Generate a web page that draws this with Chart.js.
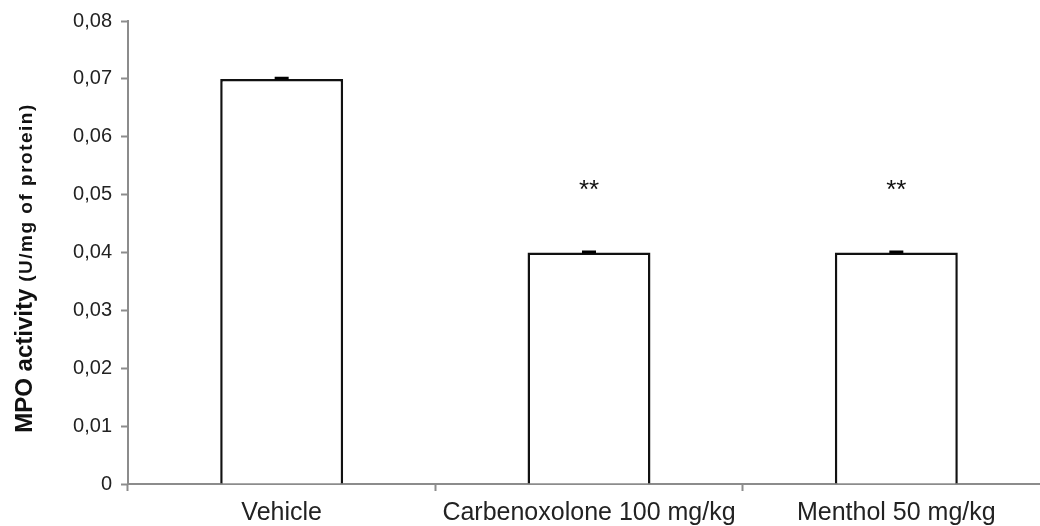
<!DOCTYPE html>
<html>
<head>
<meta charset="utf-8">
<script src="https://cdn.jsdelivr.net/npm/chart.js@4.4.1/dist/chart.umd.min.js"></script>
<style>
  html, body { margin: 0; padding: 0; background: #fff; overflow: hidden; }
  #caja { width: 1050px; height: 526px; }
</style>
</head>
<body>
<div id="caja"><canvas id="grafica"></canvas></div>
<script>
// datos
const categorias = ["Vehicle", "Carbenoxolone 100 mg/kg", "Menthol 50 mg/kg"];
const actividadMPO = [0.07, 0.04, 0.04];
const errores = [0.0001, 0.0001, 0.0001];
const significancia = ["", "**", "**"];
const etiquetasY = ["0", "0,01", "0,02", "0,03", "0,04", "0,05", "0,06", "0,07", "0,08"];
const tituloY = "MPO activity";
const unidadY = "(U/mg of protein)";

const fuente = "'Liberation Sans', Arial, sans-serif";
const gris = "#8c8c8c";

// barras de error, asteriscos y titulo del eje Y
const extras = {
  id: "extras",
  afterDatasetsDraw(chart) {
    const ctx = chart.ctx;
    const yScale = chart.scales.y;
    const meta = chart.getDatasetMeta(0);
    ctx.save();
    meta.data.forEach((barra, i) => {
      const yErr = yScale.getPixelForValue(actividadMPO[i] + errores[i]);
      ctx.strokeStyle = "#000";
      ctx.lineWidth = 3;
      ctx.beginPath();
      ctx.moveTo(barra.x, barra.y);
      ctx.lineTo(barra.x, yErr);
      ctx.moveTo(barra.x - 7, yErr);
      ctx.lineTo(barra.x + 7, yErr);
      ctx.stroke();
      if (significancia[i]) {
        ctx.fillStyle = "#111";
        ctx.font = "26px " + fuente;
        ctx.textAlign = "center";
        ctx.textBaseline = "alphabetic";
        ctx.fillText(significancia[i], barra.x, barra.y - 55);
      }
    });
    ctx.restore();

    // titulo rotado con dos tamaños
    ctx.save();
    ctx.translate(32, 268);
    ctx.rotate(-Math.PI / 2);
    ctx.fillStyle = "#111";
    ctx.textBaseline = "alphabetic";
    ctx.textAlign = "left";
    ctx.font = "bold 24px " + fuente;
    const w1 = ctx.measureText(tituloY).width;
    ctx.font = "bold 19px " + fuente;
    ctx.letterSpacing = "1.5px";
    const w2 = ctx.measureText(unidadY).width;
    const total = w1 + 7 + w2;
    const x0 = -total / 2;
    ctx.letterSpacing = "0px";
    ctx.font = "bold 24px " + fuente;
    ctx.fillText(tituloY, x0, 0);
    ctx.letterSpacing = "1.5px";
    ctx.font = "bold 19px " + fuente;
    ctx.fillText(unidadY, x0 + w1 + 7, 0);
    ctx.restore();
  }
};

new Chart(document.getElementById("grafica").getContext("2d"), {
  type: "bar",
  data: {
    labels: categorias,
    datasets: [{
      data: actividadMPO,
      backgroundColor: "#fff",
      borderColor: "#111",
      borderWidth: 2.5,
      categoryPercentage: 1,
      barPercentage: 0.4
    }]
  },
  options: {
    responsive: true,
    maintainAspectRatio: false,
    animation: false,
    layout: { padding: { top: 20, left: 0, right: 0, bottom: 0 } },
    plugins: { legend: { display: false }, tooltip: { enabled: false } },
    scales: {
      x: {
        offset: true,
        afterFit(scale) { scale.height = 42; },
        grid: { offset: true, drawOnChartArea: false, tickLength: 7, color: gris, tickWidth: 2 },
        border: { color: gris, width: 2 },
        ticks: { font: { size: 25, family: fuente }, color: "#222", padding: 7, maxRotation: 0, autoSkip: false }
      },
      y: {
        min: 0,
        max: 0.08,
        afterFit(scale) { scale.width = 128; },
        grid: { drawOnChartArea: false, tickLength: 7, color: gris, tickWidth: 2 },
        border: { color: gris, width: 2 },
        ticks: {
          stepSize: 0.01,
          font: { size: 20, family: fuente },
          color: "#222",
          padding: 9,
          callback: (v, i) => etiquetasY[i]
        }
      }
    }
  },
  plugins: [extras]
});
</script>
</body>
</html>
